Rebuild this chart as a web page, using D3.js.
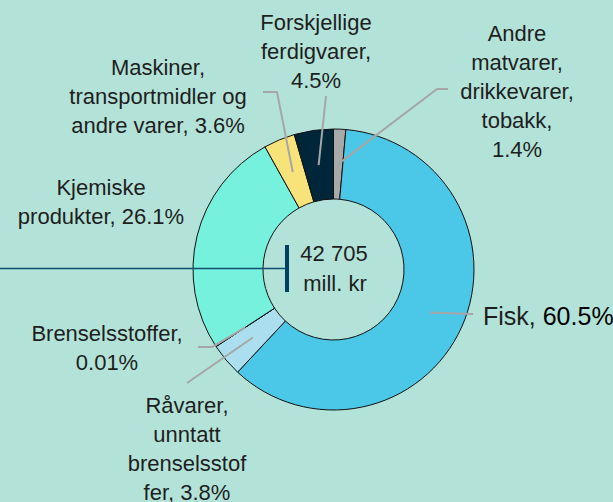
<!DOCTYPE html>
<html>
<head>
<meta charset="utf-8">
<script src="https://cdn.jsdelivr.net/npm/d3@7"></script>
<style>
  html, body { margin: 0; padding: 0; background: #b3e3d8; }
  svg { display: block; font-family: "Liberation Sans", Arial, sans-serif; }
</style>
</head>
<body>
<script>
// data, in drawing order clockwise from 12 o'clock
const categories = ["Andre matvarer, drikkevarer, tobakk", "Fisk", "Råvarer, unntatt brenselsstoffer",
  "Brenselsstoffer", "Kjemiske produkter", "Maskiner, transportmidler og andre varer", "Forskjellige ferdigvarer"]
const shares = [1.4, 60.5, 3.8, 0.01, 26.1, 3.6, 4.5]
const colors = ["#a9a9a9", "#4bc7e8", "#abdff0", "#8fd0e0", "#76f1de", "#f8e27a", "#00263a"]
const total = "42 705"
const unit = "mill. kr"

// how each label is broken into lines (the share is added to the last line)
const labelLines = [
  ["Andre", "matvarer,", "drikkevarer,", "tobakk,", ""],
  ["Fisk,"],
  ["Råvarer,", "unntatt", "brenselsstof", "fer,"],
  ["Brenselsstoffer,", ""],
  ["Kjemiske", "produkter,"],
  ["Maskiner,", "transportmidler og", "andre varer,"],
  ["Forskjellige", "ferdigvarer,", ""]
]

// label placement and leader bends (layout only)
const layout = [
  { x: 517, y: 41, anchor: "middle", leader: [[437, 89], [448, 89]] },
  { x: 483, y: 325, anchor: "start", leader: [[473, 314]], big: true },
  { x: 187, y: 413, anchor: "middle", leader: [[187, 383]] },
  { x: 107, y: 341, anchor: "middle", leader: [[212, 347], [198, 347]] },
  { x: 101, y: 195, anchor: "middle", leader: null },
  { x: 158, y: 75, anchor: "middle", leader: [[277, 92], [263, 92]] },
  { x: 316, y: 30, anchor: "middle", leader: [[326, 96]] }
]

const width = 613
const height = 502
const cx = 333.5, cy = 269.5
const outerR = 140.5, innerR = 70.5
const lineH = 29

const svg = d3.select("body").append("svg")
  .attr("width", width)
  .attr("height", height)

svg.append("rect").attr("width", width).attr("height", height).attr("fill", "#b3e3d8")

const pie = d3.pie().sort(null).value(d => d)
const arcs = pie(shares)
const arc = d3.arc().innerRadius(innerR).outerRadius(outerR)

const g = svg.append("g").attr("transform", `translate(${cx},${cy})`)

g.selectAll("path.slice")
  .data(arcs)
  .enter().append("path")
  .attr("class", "slice")
  .attr("d", arc)
  .attr("fill", (d, i) => colors[i])
  .attr("stroke", "#111")
  .attr("stroke-width", 1)

// marker line for the total, runs over the ring
svg.append("line")
  .attr("x1", 0).attr("x2", 287).attr("y1", 268.5).attr("y2", 268.5)
  .attr("stroke", "#114d70").attr("stroke-width", 1.6)
svg.append("line")
  .attr("x1", 287).attr("x2", 287).attr("y1", 245).attr("y2", 292)
  .attr("stroke", "#003f62").attr("stroke-width", 4)

// leaders
arcs.forEach((a, i) => {
  const l = layout[i]
  if (!l.leader) return
  const c = arc.centroid(a)
  const pts = [[c[0] + cx, c[1] + cy]].concat(l.leader)
  svg.append("path")
    .attr("d", d3.line()(pts))
    .attr("fill", "none")
    .attr("stroke", "#a6a6a6")
    .attr("stroke-width", 2)
})

// labels
const fmt = v => String(v) + "%"
labelLines.forEach((lines, i) => {
  const l = layout[i]
  const t = svg.append("text")
    .attr("text-anchor", l.anchor)
    .attr("font-size", l.big ? 25 : 22)
    .attr("fill", "#1e1e1e")
  lines.forEach((s, j) => {
    const last = j === lines.length - 1
    const ts = t.append("tspan").attr("x", l.x).attr("y", l.y + j * lineH)
    if (!last) { ts.text(s); return }
    if (s === "") { ts.text(fmt(shares[i])); return }
    ts.text(s + " ")
    if (l.big) {
      t.append("tspan").attr("fill", "#000").text(fmt(shares[i]))
    } else {
      ts.text(s + " " + fmt(shares[i]))
    }
  })
})

// centre text
svg.append("text")
  .attr("x", 334).attr("y", 261)
  .attr("text-anchor", "middle").attr("font-size", 22).attr("fill", "#1e1e1e")
  .text(total)
svg.append("text")
  .attr("x", 335).attr("y", 291)
  .attr("text-anchor", "middle").attr("font-size", 22).attr("fill", "#1e1e1e")
  .text(unit)
</script>
</body>
</html>
